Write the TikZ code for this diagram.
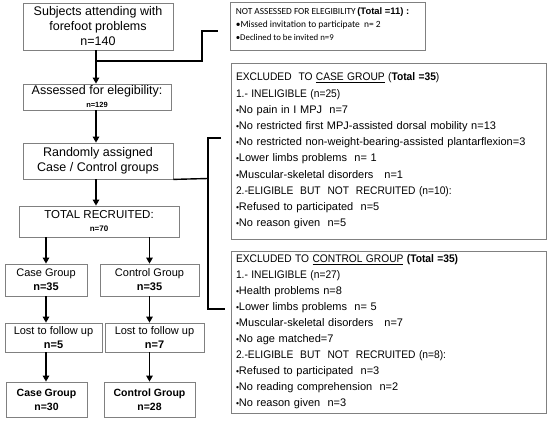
\documentclass[tikz,border=0pt]{standalone}
\usepackage{fontspec}
\usepackage{graphicx}
\setmainfont{Liberation Sans}
\newfontfamily\calfont{Carlito}
\usetikzlibrary{arrows.meta,calc}
\newcommand\bul{{\fontsize{8.5}{8}\selectfont •}}
\newcommand\cnd[1]{\scalebox{0.93}[1]{#1}}
\begin{document}
\begin{tikzpicture}[x=1pt,y=-1pt,
  box/.style={draw=black!50,line width=0.8pt,fill=white,inner sep=0pt,align=center},
  big/.style={font=\fontsize{12.5}{15}\selectfont},
  mid/.style={font=\fontsize{11}{14}\selectfont},
  exbox/.style={draw=black!50,line width=0.8pt,fill=white,inner sep=0pt,inner xsep=5pt,align=left,
     minimum width=315pt,text width=305pt,font=\fontsize{11}{16.2}\selectfont},
  conn/.style={line width=1.4pt,black},
  arr/.style={conn,-{Triangle[length=6pt,width=6.5pt]}}]
\useasboundingbox (0,0) rectangle (550,423);
\fill[white] (0,0) rectangle (550,423);

% left column
\node[box,big,minimum width=150pt,minimum height=47pt] (subj) at (98,26.5)
  {Subjects attending with\\forefoot problems\\n=140};
\node[box,big,minimum width=148pt,minimum height=26pt] (assess) at (97,97)
  {Assessed for elegibility:\\[-2pt]{\bfseries\fontsize{7.5}{9}\selectfont n=129}};
\node[box,big,minimum width=150pt,minimum height=36pt] (rand) at (98,161)
  {Randomly assigned\\Case / Control groups};
\node[box,minimum width=160pt,minimum height=31pt,font=\fontsize{11.5}{13}\selectfont] (total) at (99,221.5)
  {TOTAL RECRUITED:\\{\bfseries\fontsize{8}{10}\selectfont n=70}};
\node[box,mid,minimum width=82pt,minimum height=32pt] (caseg) at (46,280)
  {Case Group\\\textbf{n=35}};
\node[box,mid,minimum width=99pt,minimum height=32pt] (ctrlg) at (149.5,280)
  {Control Group\\\textbf{n=35}};
\node[box,mid,minimum width=97pt,minimum height=29pt] (lost1) at (53.5,337.5)
  {Lost to follow up\\\textbf{n=5}};
\node[box,mid,minimum width=99pt,minimum height=29pt] (lost2) at (154.5,337.5)
  {Lost to follow up\\\textbf{n=7}};
\node[box,minimum width=81pt,minimum height=35pt,font=\bfseries\fontsize{10.5}{14}\selectfont] (fin1) at (46.5,399.5)
  {Case Group\\n=30};
\node[box,minimum width=91pt,minimum height=35pt,font=\bfseries\fontsize{10.5}{14}\selectfont] (fin2) at (149.5,399.5)
  {Control Group\\n=28};

% right column
\node[box,minimum width=195pt,minimum height=48pt] (notass) at (327.5,26) {};
\node[anchor=north west,inner sep=0pt,align=left,font=\calfont\fontsize{9.3}{13}\selectfont] (notasstxt)
  at ($(notass.north west)+(6,6)$)
  {\resizebox{120pt}{!}{NOT ASSESSED FOR ELEGIBILITY}\,{\rmfamily\bfseries\resizebox{52pt}{!}{(Total =11) :}}\\
   \resizebox{145pt}{!}{•Missed invitation to participate~ n= 2}\\
   \resizebox{98pt}{!}{•Declined to be invited n=9}};

\node[exbox,minimum height=176pt] (exc1) at (388.5,151)
  {\cnd{EXCLUDED~ TO \underline{CASE GROUP} (\textbf{Total =35})}\\
   \cnd{1.- INELIGIBLE (n=25)}\\
   \bul No pain in I MPJ~ n=7\\
   \bul No restricted first MPJ-assisted dorsal mobility n=13\\
   \bul No restricted non-weight-bearing-assisted plantarflexion=3\\
   \bul Lower limbs problems~ n= 1\\
   \bul Muscular-skeletal disorders~~ n=1\\
   \cnd{2.-ELIGIBLE~ BUT~ NOT~ RECRUITED (n=10):}\\
   \bul Refused to participated~ n=5\\
   \bul No reason given~ n=5};
\node[exbox,minimum height=162pt,font=\fontsize{11}{16}\selectfont] (exc2) at (388.5,332)
  {\cnd{EXCLUDED TO \underline{CONTROL GROUP} \textbf{(Total =35)}}\\
   \cnd{1.- INELIGIBLE (n=27)}\\
   \bul Health problems n=8\\
   \bul Lower limbs problems~ n= 5\\
   \bul Muscular-skeletal disorders~~ n=7\\
   \bul No age matched=7\\
   \cnd{2.-ELIGIBLE~ BUT~ NOT~ RECRUITED (n=8):}\\
   \bul Refused to participated~ n=3\\
   \bul No reading comprehension~ n=2\\
   \bul No reason given~ n=3};

% connectors
\draw[arr] (subj.south -| 96,0) -- (assess.north -| 96,0);
\draw[arr] (assess.south -| 96,0) -- (rand.north -| 96,0);
\draw[arr] (rand.south -| 96,0) -- (total.north -| 96,0);
\draw[arr] (total.south -| caseg.north) -- (caseg.north);
\draw[arr] (total.south -| ctrlg.north) -- (ctrlg.north);
\draw[arr] (caseg.south) -- (lost1.north -| caseg.south);
\draw[arr] (ctrlg.south) -- (lost2.north -| ctrlg.south);
\draw[arr] (lost1.south -| caseg.south) -- (fin1.north -| caseg.south);
\draw[arr] (lost2.south -| ctrlg.south) -- (fin2.north -| ctrlg.south);

\coordinate (j1) at (96,61);
\coordinate (e1) at (218,31);
\draw[conn] (j1) -- (202,61) |- (e1);

\coordinate (j2) at (rand.south east);
\coordinate (e2) at (221,138);
\coordinate (e3) at (225,309);
\draw[conn] (j2) -- (208,178.5);
\draw[conn] (e2) -| (208,309) -- (e3);
\end{tikzpicture}
\end{document}
